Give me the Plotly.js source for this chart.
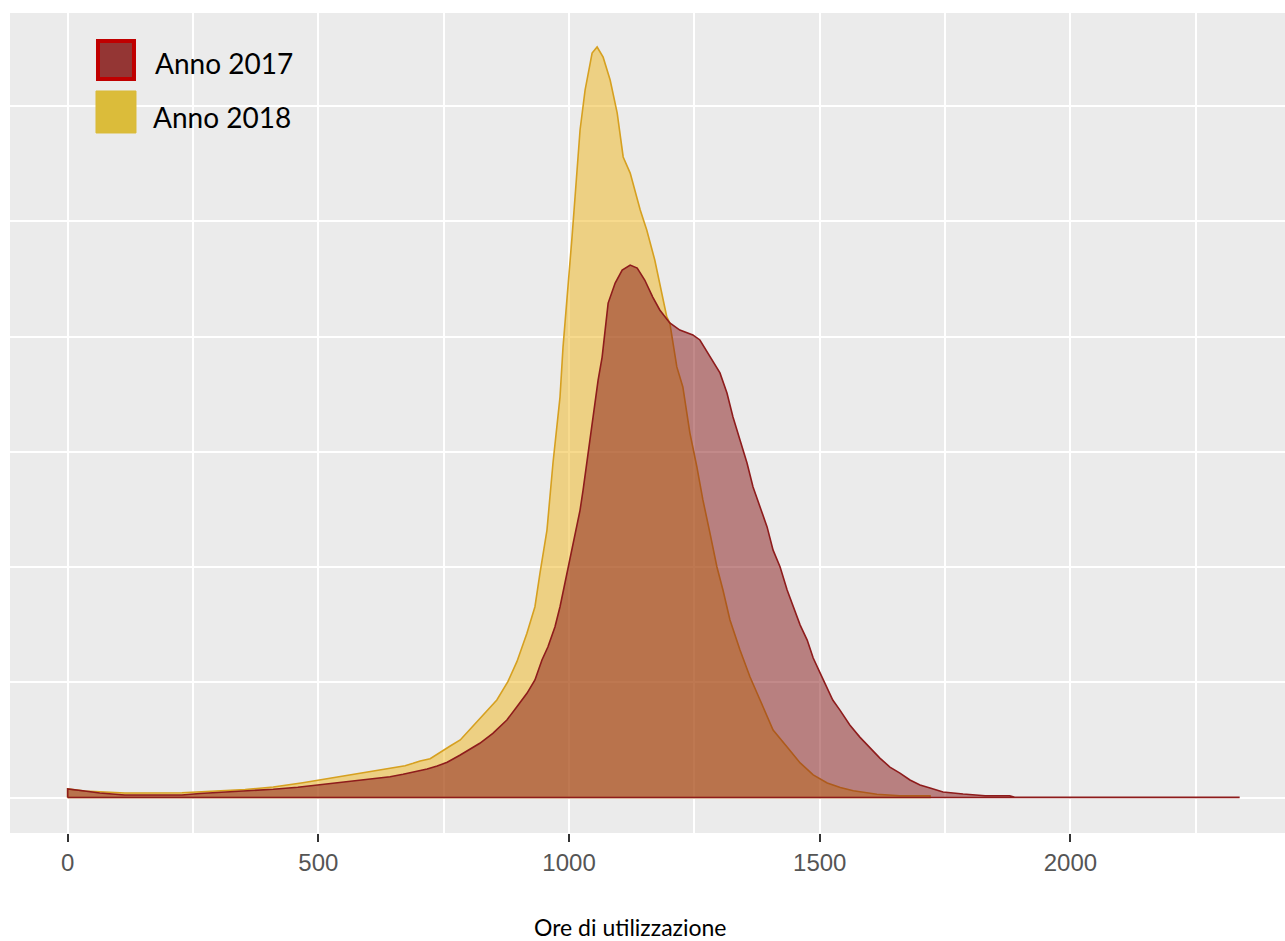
<!DOCTYPE html>
<html>
<head>
<meta charset="utf-8">
<script src="https://cdn.plot.ly/plotly-3.0.1.min.js"></script>
<style>
  html, body { margin: 0; padding: 0; background: #ffffff; }
  #chart { width: 1285px; height: 941px; }
</style>
</head>
<body>
<div id="chart"></div>
<script>
// Ore di utilizzazione (hours) and estimated density (x 1e-6)
const hours2018 = [0,34,64,114,228,304,354,410,443,469,493,517,553,577,607,633,649,673,689,703,723,743,763,783,816,856,878,896,916,932,942,956,968,982,988,998,1006,1012,1022,1032,1046,1056,1068,1082,1096,1108,1122,1142,1155,1171,1185,1195,1201,1215,1227,1241,1255,1267,1281,1295,1307,1321,1341,1361,1381,1407,1435,1461,1487,1515,1541,1567,1594,1614,1660,1720];
const dens2018 = [36.9,28.2,23.9,19.5,20.8,28.2,34.7,45.6,54.2,64.2,72.9,81.6,93.3,103.3,111.9,120.6,129.3,138,148.4,158.3,168.3,197.4,223.4,249.5,328.8,423,502.4,589.2,712.4,827.8,972.7,1160,1451,1737,1954,2202,2432,2605,2896,3069,3230,3256,3212,3113,2970,2779,2709,2549,2462,2332,2189,2085,2059,1868,1781,1582,1434,1291,1148,1000,900,770,640,523,423,293,219,150,98,63,43,29.5,20.8,13.9,7.8,7.8];

const hours2017 = [0,34,64,114,228,264,354,410,459,493,523,549,579,607,643,669,697,717,737,757,783,822,848,876,896,916,932,946,958,972,982,992,1002,1012,1022,1028,1038,1048,1058,1066,1072,1078,1092,1106,1122,1136,1151,1167,1181,1201,1221,1247,1261,1281,1301,1315,1327,1341,1355,1367,1381,1395,1407,1421,1435,1447,1461,1475,1487,1500,1514,1526,1540,1560,1580,1600,1620,1640,1660,1680,1700,1720,1746,1786,1830,1879,1889,2336];
const dens2017 = [36.9,28.2,19.5,10.8,10.8,17.4,28.2,35.6,44.3,52.9,59.9,67.2,74.6,80.3,90.2,100.6,113.7,123.6,136.7,152.7,184.4,235.1,278.5,336.2,393.9,452,509.8,596.5,654.2,741,827.8,929.3,1030,1131,1247,1334,1495,1668,1811,1911,2028,2145,2232,2288,2310,2297,2245,2171,2115,2059,2028,2007,1985,1911,1842,1755,1651,1551,1451,1347,1260,1174,1073,1000,900,826,748,683,605,544,479,423,380,315,262,215,171,132,106,76,54,41,24,15,7.8,7.8,1,1];

const seriesNames = ["Anno 2017", "Anno 2018"];
const xTickVals = [0, 500, 1000, 1500, 2000];
const xTitle = "Ore di utilizzazione";

function polygon(xs, ys) {
  const px = [xs[0]].concat(xs, [xs[xs.length - 1], xs[0]]);
  const py = [0].concat(ys.map(v => v * 1e-6), [0, 0]);
  return { x: px, y: py };
}

const p18 = polygon(hours2018, dens2018);
const p17 = polygon(hours2017, dens2017);

const traces = [
  {
    x: p18.x, y: p18.y, type: "scatter", mode: "lines",
    fill: "toself", fillcolor: "rgba(239,181,27,0.5)",
    line: { color: "#D6A020", width: 1.6 },
    name: seriesNames[1], showlegend: false, hoverinfo: "skip"
  },
  {
    x: p17.x, y: p17.y, type: "scatter", mode: "lines",
    fill: "toself", fillcolor: "rgba(133,21,21,0.5)",
    line: { color: "#8E1C1C", width: 1.6 },
    name: seriesNames[0], showlegend: false, hoverinfo: "skip"
  }
];

const layout = {
  width: 1285, height: 941,
  margin: { l: 10, r: 0, t: 13, b: 108, pad: 0 },
  paper_bgcolor: "#ffffff",
  plot_bgcolor: "#EBEBEB",
  showlegend: false,
  xaxis: {
    range: [-115, 2428],
    tickvals: xTickVals,
    ticktext: xTickVals.map(String),
    ticks: "outside", ticklen: 8, tickwidth: 2, tickcolor: "#333333",
    tickfont: { family: "Liberation Sans, Arial, sans-serif", size: 24, color: "#555555" },
    showgrid: true, gridcolor: "#ffffff", gridwidth: 2,
    minor: { dtick: 250, tick0: 0, showgrid: true, gridcolor: "#ffffff", gridwidth: 2, ticks: "" },
    zeroline: true, zerolinecolor: "#ffffff", zerolinewidth: 2,
    showline: false, fixedrange: true
  },
  yaxis: {
    range: [-0.000154, 0.0034035],
    dtick: 0.0005, tick0: 0,
    showticklabels: false, ticks: "",
    showgrid: true, gridcolor: "#ffffff", gridwidth: 2,
    zeroline: true, zerolinecolor: "#ffffff", zerolinewidth: 2,
    showline: false, fixedrange: true
  },
  shapes: [
    { type: "rect", xref: "paper", yref: "paper",
      x0: 0.06902, x1: 0.09725, y0: 0.91951, y1: 0.96585,
      line: { color: "#C00000", width: 4 }, fillcolor: "#943634", layer: "above" },
    { type: "rect", xref: "paper", yref: "paper",
      x0: 0.06745, x1: 0.09882, y0: 0.85366, y1: 0.90488,
      line: { color: "#DBBC3A", width: 1 }, fillcolor: "#DBBC3A", layer: "above" }
  ],
  annotations: [
    { xref: "paper", yref: "paper", x: 0.11216, y: 0.93902, xanchor: "left", yanchor: "middle",
      text: seriesNames[0], showarrow: false,
      font: { family: "Lato, 'Open Sans', sans-serif", size: 28, color: "#000000" } },
    { xref: "paper", yref: "paper", x: 0.11059, y: 0.87317, xanchor: "left", yanchor: "middle",
      text: seriesNames[1], showarrow: false,
      font: { family: "Lato, 'Open Sans', sans-serif", size: 28, color: "#000000" } },
    { xref: "paper", yref: "paper", x: 0.487, y: -0.1146, xanchor: "center", yanchor: "middle",
      text: xTitle, showarrow: false,
      font: { family: "Lato, 'Open Sans', sans-serif", size: 23, color: "#000000" } }
  ]
};

Plotly.newPlot("chart", traces, layout, { staticPlot: true, displayModeBar: false });
</script>
</body>
</html>
